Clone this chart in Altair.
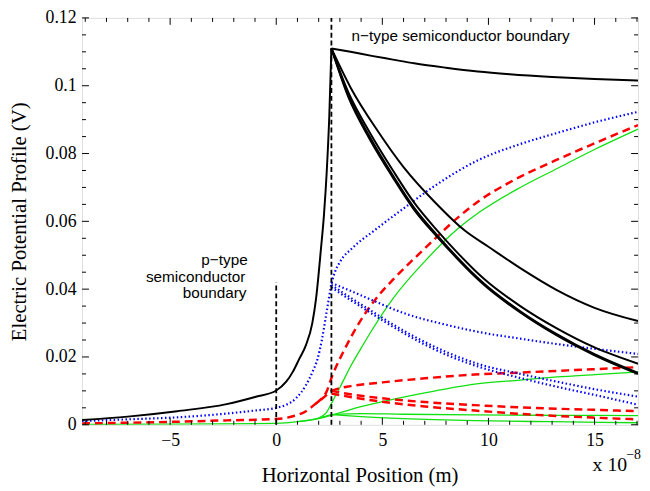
import altair as alt
import pandas as pd

# ---------------- data (x in units of 1e-8 m, y in V) ----------------
XMIN, XMAX = -9.15, 17.05

# black solid curves
black_left_x = [-9.15, -7, -4.67, -2.34, -1, 0, 0.47, 0.78, 1.09, 1.4, 1.7, 1.87, 2.1, 2.25, 2.38, 2.5, 2.6]
black_left_y = [0.0014, 0.0024, 0.0040, 0.0061, 0.0082, 0.0101, 0.0127, 0.0156, 0.0195, 0.0235, 0.0300, 0.0369, 0.0514, 0.0620, 0.0747, 0.0910, 0.1110]
black_top_x = [2.6, 3.5, 4.5, 5.5, 6.5, 8, 9.5, 11, 13, 15, 17.05]
black_top_y = [0.1110, 0.1100, 0.1088, 0.1077, 0.1066, 0.1053, 0.1042, 0.1034, 0.1026, 0.1020, 0.1015]
black_d1_x = [2.6, 3.5, 4.8, 6, 7.5, 8.9, 10, 11.5, 13.2, 15, 17.05]
black_d1_y = [0.1110, 0.0995, 0.0865, 0.0760, 0.0655, 0.0572, 0.0525, 0.0462, 0.0398, 0.0345, 0.0306]
black_d_x = [2.6, 3.4, 4.4, 5.5, 6.5, 7.6, 8.5, 9.35, 9.8, 11.5, 13.2, 15, 17.05]
black_d2_y = [0.1110, 0.0980, 0.0863, 0.0750, 0.0655, 0.0572, 0.0510, 0.0456, 0.0430, 0.0350, 0.0285, 0.0228, 0.0180]
black_d3_y = [0.1110, 0.0972, 0.0850, 0.0735, 0.0640, 0.0558, 0.0496, 0.0442, 0.0416, 0.0335, 0.0268, 0.0208, 0.0153]
black_d4_y = [0.1110, 0.0966, 0.0843, 0.0729, 0.0634, 0.0553, 0.0492, 0.0438, 0.0412, 0.0331, 0.0264, 0.0205, 0.0150]

# blue dotted curves
blue_left_x = [-9.15, -7, -4.67, -2.34, -1, 0, 0.47, 0.93, 1.4, 1.71, 1.95, 2.15, 2.34, 2.5, 2.6]
blue_left_y = [0.0011, 0.0016, 0.0022, 0.0033, 0.0042, 0.0050, 0.0059, 0.0078, 0.0117, 0.0156, 0.0195, 0.0250, 0.0320, 0.0380, 0.0418]
blue_up_x = [2.6, 2.75, 3.0, 3.6, 4.6, 6, 7.5, 9.5, 11.5, 13.2, 15, 17.05]
blue_up_y = [0.0418, 0.0448, 0.0480, 0.0522, 0.0572, 0.0638, 0.0706, 0.0780, 0.0828, 0.0860, 0.0892, 0.0923]
blue_d_x = [2.6, 3.5, 4.5, 6.07, 8, 9.6, 11.5, 13.24, 15, 17.05]
blue_d1_y = [0.0418, 0.0395, 0.0368, 0.0328, 0.0295, 0.0273, 0.0254, 0.0238, 0.0224, 0.0209]
blue_d2_y = [0.0412, 0.0375, 0.0335, 0.0275, 0.0215, 0.0178, 0.0150, 0.0127, 0.0105, 0.0083]
blue_d3_y = [0.0405, 0.0368, 0.0328, 0.0268, 0.0207, 0.0170, 0.0138, 0.0112, 0.0088, 0.0059]

# red dashed curves
red_left_x = [-9.15, -4.67, -2.34, 0, 0.78, 1.4, 1.87, 2.34, 2.6]
red_left_y = [0.0004, 0.0009, 0.0013, 0.0017, 0.0025, 0.0040, 0.0063, 0.0086, 0.0100]
red_up_x = [1.87, 2.1, 2.35, 2.65, 3.2, 3.9, 4.7, 5.5, 6.3, 7.0, 7.6, 8.5, 9.5, 11, 13.2, 15, 17.05]
red_up_y = [0.0063, 0.0075, 0.0095, 0.0146, 0.0220, 0.0300, 0.0372, 0.0428, 0.0478, 0.0520, 0.0556, 0.0608, 0.0658, 0.0715, 0.0781, 0.0830, 0.0884]
red_flat_x = [2.6, 3.0, 3.5, 5, 7, 9.35, 11.5, 13.24, 15, 17.05]
red_flat_y = [0.0100, 0.0108, 0.0114, 0.0125, 0.0137, 0.0148, 0.0154, 0.0159, 0.0164, 0.0170]
red_d_x = [2.6, 3.5, 5, 7, 9.35, 12, 15, 17.05]
red_d1_y = [0.0100, 0.0090, 0.0078, 0.0067, 0.0058, 0.0050, 0.0044, 0.0040]
red_d2_y = [0.0092, 0.0082, 0.0068, 0.0054, 0.0042, 0.0030, 0.0021, 0.0016]

# green solid curves
green_left_x = [-9.15, -5, 0, 1, 1.8, 2.3, 2.6]
green_left_y = [0.0001, 0.0002, 0.0004, 0.0009, 0.0017, 0.0025, 0.0030]
green_up_x = [2.0, 2.35, 2.7, 3.0, 3.5, 4.0, 4.5, 5.5, 7.0, 8.5, 9.6, 11.5, 13.24, 15, 17.05]
green_up_y = [0.0020, 0.0035, 0.0075, 0.0110, 0.0172, 0.0226, 0.0278, 0.0372, 0.0482, 0.0575, 0.0628, 0.0700, 0.0756, 0.0812, 0.0872]
green_2_x = [1, 2, 2.6, 3.5, 5, 7, 9.35, 11.5, 13.24, 15, 17.05]
green_2_y = [0.0009, 0.0018, 0.0028, 0.0045, 0.0068, 0.0094, 0.0120, 0.0132, 0.0141, 0.0148, 0.0156]
green_lo_x = [2.6, 4, 6, 9.35, 13, 17.05]
green_3_y = [0.0030, 0.0033, 0.0031, 0.0029, 0.0028, 0.0027]
green_4_y = [0.0030, 0.0024, 0.0018, 0.0012, 0.0009, 0.0006]

# boundaries
bound_x = [0, 2.6]
bound_y2 = [0.042, 0.12]

# ticks
x_major = [-5, 0, 5, 10, 15]
x_minor = [-9, -8, -7, -6, -4, -3, -2, -1, 1, 2, 3, 4, 6, 7, 8, 9, 11, 12, 13, 14, 16, 17]
y_major = [0, 0.02, 0.04, 0.06, 0.08, 0.1, 0.12]
y_minor = [0.005, 0.01, 0.015, 0.025, 0.03, 0.035, 0.045, 0.05, 0.055, 0.065, 0.07, 0.075,
           0.085, 0.09, 0.095, 0.105, 0.11, 0.115]

# annotations
ann_text = ["n\u2212type semiconductor boundary", "p\u2212type", "semiconductor", "boundary"]
ann_x = [3.55, -3.53, -6.14, -4.41]
ann_y = [0.1133, 0.0471, 0.0420, 0.0373]

W, H = 563, 412
SERIF = "Liberation Serif"
SANS = "Liberation Sans"


def frame(items):
    rows = []
    for name, xs_, ys_ in items:
        for a, b in zip(xs_, ys_):
            rows.append({"x": a, "y": b, "series": name})
    return pd.DataFrame(rows)


xscale = alt.Scale(domain=[XMIN, XMAX], nice=False, zero=False)
yscale = alt.Scale(domain=[0, 0.12], nice=False)
xaxis = alt.Axis(values=x_major, format="~d", ticks=False, domain=False, grid=False, labelPadding=7,
                 labelFont=SERIF, labelFontSize=18, labelColor="black",
                 title="Horizontal Position (m)", titleFont=SERIF, titleFontSize=21,
                 titleFontWeight="normal", titleColor="black",
                 titleX=281, titleY=51, titleAlign="center", titleBaseline="middle")
yaxis = alt.Axis(values=y_major, format=".2~f", ticks=False, domain=False, grid=False, labelPadding=6,
                 labelFont=SERIF, labelFontSize=18, labelColor="black",
                 title="Electric Potential Profile (V)", titleFont=SERIF, titleFontSize=21,
                 titleFontWeight="normal", titleColor="black",
                 titleX=-63, titleY=206, titleAngle=270, titleAlign="center", titleBaseline="middle")


def X(f):
    return alt.X(f + ":Q", scale=xscale, axis=xaxis)


def Y(f):
    return alt.Y(f + ":Q", scale=yscale, axis=yaxis)


def lines(df, color, width, dash=None):
    kw = dict(color=color, strokeWidth=width, clip=True, interpolate="monotone")
    if dash:
        kw["strokeDash"] = dash
    return alt.Chart(df).mark_line(**kw).encode(x=X("x"), y=Y("y"), detail="series:N")


green = lines(frame([("gl", green_left_x, green_left_y), ("gu", green_up_x, green_up_y),
                     ("g2", green_2_x, green_2_y), ("g3", green_lo_x, green_3_y),
                     ("g4", green_lo_x, green_4_y)]), "#10e010", 1.3)
red = lines(frame([("rl", red_left_x, red_left_y), ("ru", red_up_x, red_up_y),
                   ("rf", red_flat_x, red_flat_y), ("r1", red_d_x, red_d1_y),
                   ("r2", red_d_x, red_d2_y)]), "#ff0000", 2.5, [8, 5])
blue = lines(frame([("bl", blue_left_x, blue_left_y), ("bu", blue_up_x, blue_up_y),
                    ("b1", blue_d_x, blue_d1_y), ("b2", blue_d_x, blue_d2_y),
                    ("b3", blue_d_x, blue_d3_y)]), "#0000ff", 2.2, [1.5, 2.5])
black = lines(frame([("kl", black_left_x, black_left_y), ("kt", black_top_x, black_top_y),
                     ("k1", black_d1_x, black_d1_y), ("k2", black_d_x, black_d2_y),
                     ("k3", black_d_x, black_d3_y), ("k4", black_d_x, black_d4_y)]), "black", 2.0)

bounds = alt.Chart(pd.DataFrame({"x": bound_x, "y": [0, 0], "y2": bound_y2})).mark_rule(
    color="black", strokeWidth=1.8, strokeDash=[5, 3]).encode(x=X("x"), y=Y("y"), y2="y2:Q")

ann = alt.Chart(pd.DataFrame({"x": ann_x, "y": ann_y, "t": ann_text})).mark_text(
    font=SANS, fontSize=15.5, align="left", baseline="alphabetic", color="black").encode(
    x=X("x"), y=Y("y"), text="t:N")


def tick_layers():
    out = []
    for vals, ln in ((x_major, 7), (x_minor, 4)):
        d = pd.DataFrame({"v": vals})
        out.append(alt.Chart(d).mark_rule(color="black", strokeWidth=1).encode(
            x=X("v"), y=alt.value(H), y2=alt.value(H - ln)))
        out.append(alt.Chart(d).mark_rule(color="black", strokeWidth=1).encode(
            x=X("v"), y=alt.value(0), y2=alt.value(ln)))
    for vals, ln in ((y_major, 7), (y_minor, 4)):
        d = pd.DataFrame({"v": vals})
        out.append(alt.Chart(d).mark_rule(color="black", strokeWidth=1).encode(
            y=Y("v"), x=alt.value(0), x2=alt.value(ln)))
        out.append(alt.Chart(d).mark_rule(color="black", strokeWidth=1).encode(
            y=Y("v"), x=alt.value(W), x2=alt.value(W - ln)))
    return out


exp_main = alt.Chart(pd.DataFrame({"t": ["x 10"]})).mark_text(
    font=SERIF, fontSize=20, align="left", baseline="alphabetic", color="black").encode(
    x=alt.value(517), y=alt.value(459), text="t:N")
exp_sup = alt.Chart(pd.DataFrame({"t": ["\u22128"]})).mark_text(
    font=SERIF, fontSize=14, align="left", baseline="alphabetic", color="black").encode(
    x=alt.value(551), y=alt.value(447), text="t:N")

chart = alt.layer(green, red, blue, black, bounds, ann, *tick_layers(), exp_main, exp_sup).properties(
    width=W, height=H,
    autosize=alt.AutoSizeParams(type="none"),
    padding={"left": 75, "top": 7, "right": 4, "bottom": 62},
).configure_view(stroke="black", strokeWidth=1).configure(background="white")

chart.save("out.html", embed_options={"renderer": "svg", "actions": False})
